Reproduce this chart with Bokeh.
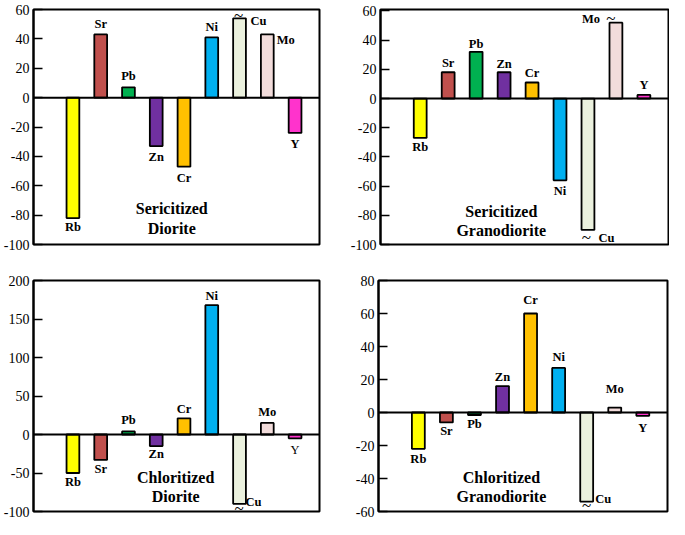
from bokeh.plotting import figure
from bokeh.models import Range1d, FixedTicker, Span, Label, ColumnDataSource
from bokeh.layouts import column, row
from bokeh.embed import file_html
from bokeh.resources import INLINE
from bokeh.core.properties import value

# ---------------- data ----------------
elements = ["Rb", "Sr", "Pb", "Zn", "Cr", "Ni", "Cu", "Mo", "Y"]
bar_colors = ["#FFFF00", "#C0504D", "#00B050", "#7030A0", "#FFC000",
              "#00B0F0", "#EBF1DE", "#F2DCDB", "#FF33CC"]

sericitized_diorite = [-82, 43, 7, -33, -47, 41, 54, 43, -24]
sericitized_granodiorite = [-27, 18, 32, 18, 11, -56, -90, 52, 2.5]
chloritized_diorite = [-50, -33, 4, -15, 21, 168, -90, 15, -5]
chloritized_granodiorite = [-22, -6, -1.5, 16, 60, 27, -54, 3, -2]

ticks_sd = [-100, -80, -60, -40, -20, 0, 20, 40, 60]
ticks_sg = [-100, -80, -60, -40, -20, 0, 20, 40, 60]
ticks_cd = [-100, -50, 0, 50, 100, 150, 200]
ticks_cg = [-60, -40, -20, 0, 20, 40, 60, 80]

titles_sd = ["Sericitized", "Diorite"]
titles_sg = ["Sericitized", "Granodiorite"]
titles_cd = ["Chloritized", "Diorite"]
titles_cg = ["Chloritized", "Granodiorite"]

# ---------------- styles ----------------
SERIF = "Liberation Serif"
xpos = list(range(len(elements)))


def panel(vals, ticks, yr, titles, title_pos, lab_dx, lab_dy, tildes,
          width, height, borders, normal_labels=()):
    bl, br, bt, bb = borders
    p = figure(width=width, height=height, output_backend="svg",
               toolbar_location=None, x_axis_location=None,
               x_range=Range1d(-1.42, 8.88), y_range=Range1d(*yr),
               min_border_left=bl, min_border_right=br,
               min_border_top=bt, min_border_bottom=bb)
    p.grid.visible = False
    p.outline_line_color = "black"
    p.outline_line_width = 2
    p.background_fill_color = "white"
    p.border_fill_color = "white"

    ax = p.yaxis[0]
    ax.ticker = FixedTicker(ticks=ticks)
    ax.major_label_overrides = {t: str(t) for t in ticks}
    ax.axis_line_color = "black"
    ax.axis_line_width = 2
    ax.major_tick_in = 9
    ax.major_tick_out = 0
    ax.major_tick_line_width = 1.5
    ax.minor_tick_line_color = None
    ax.major_label_standoff = 4
    ax.major_label_text_font = SERIF
    ax.major_label_text_font_size = "14px"
    ax.major_label_text_color = "black"

    p.add_layout(Span(location=0, dimension="width", line_color="black",
                      line_width=2))

    src = ColumnDataSource(dict(x=xpos, top=vals, color=bar_colors))
    p.vbar(x="x", top="top", bottom=0, width=0.46, source=src,
           fill_color="color", line_color="black", line_width=1.8)

    styles = ["normal" if e in normal_labels else "bold" for e in elements]
    lsrc = ColumnDataSource(dict(x=xpos, y=vals, t=elements, dx=lab_dx,
                                 dy=lab_dy, st=styles))
    p.text(x="x", y="y", text="t", x_offset="dx", y_offset="dy",
           source=lsrc, text_font=value(SERIF), text_font_style="st",
           text_font_size="12.5px", text_align="center",
           text_baseline="middle", text_color="black")

    if tildes:
        tx = [elements.index(t[0]) for t in tildes]
        ty = [vals[elements.index(t[0])] for t in tildes]
        tsrc = ColumnDataSource(dict(x=tx, y=ty, dx=[t[1] for t in tildes],
                                     dy=[t[2] for t in tildes],
                                     t=["~"] * len(tildes)))
        p.text(x="x", y="y", text="t", x_offset="dx", y_offset="dy",
               source=tsrc, text_font=value(SERIF), text_font_size="17px",
               text_align="center", text_baseline="middle",
               text_color="black")

    for txt, (tx_, ty_) in zip(titles, title_pos):
        p.add_layout(Label(x=tx_, y=ty_, text=txt, text_font=SERIF,
                           text_font_style="bold", text_font_size="16px",
                           text_align="center", text_baseline="middle",
                           text_color="black"))
    return p


p1 = panel(sericitized_diorite, ticks_sd, (-100, 60), titles_sd,
           [(3.56, -75.8), (3.56, -88.8)],
           [0, 0, 0, 0, 0, 0, 19, 18.5, 0],
           [9, -10.5, -11.5, 11, 11, -10, 3, 6, 11],
           [("Cu", -1, -3)],
           322, 266, (30, 3, 6, 22))

p2 = panel(sericitized_granodiorite, ticks_sg, (-100, 61), titles_sg,
           [(2.9, -77.2), (2.9, -90.2)],
           [0, 0, 0, 0, 0, 0, 18.5, -25, 0],
           [9.4, -9.7, -7.5, -8.7, -9, 10.4, 8, -4, -9.4],
           [("Mo", -5, -4), ("Cu", -1.5, 7.5)],
           347, 266, (58, 1, 9, 14))

p3 = panel(chloritized_diorite, ticks_cd, (-100, 200), titles_cd,
           [(3.7, -56.4), (3.7, -81.1)],
           [0, 0, 0, 0, 0, 0, 14, 0, 0],
           [8.5, 9, -11.5, 8, -9, -8.7, -2, -11, 11.7],
           [("Cu", -0.5, 5)],
           322, 253, (31, 3, 8, 8), normal_labels=("Y",))

p4 = panel(chloritized_granodiorite, ticks_cg, (-60, 80), titles_cg,
           [(2.96, -39.4), (2.96, -50.9)],
           [0, 0, 0, 0, 0, 0, 16.5, 0, 0],
           [10, 9, 9, -9.3, -14, -11, -3, -19, 11.7],
           [("Cu", 0, 4)],
           347, 253, (56, 2, 14, 7))

root = column(row(p1, p2, spacing=0), row(p3, p4, spacing=0), spacing=0)

open("out.html", "w").write(file_html(root, INLINE))
